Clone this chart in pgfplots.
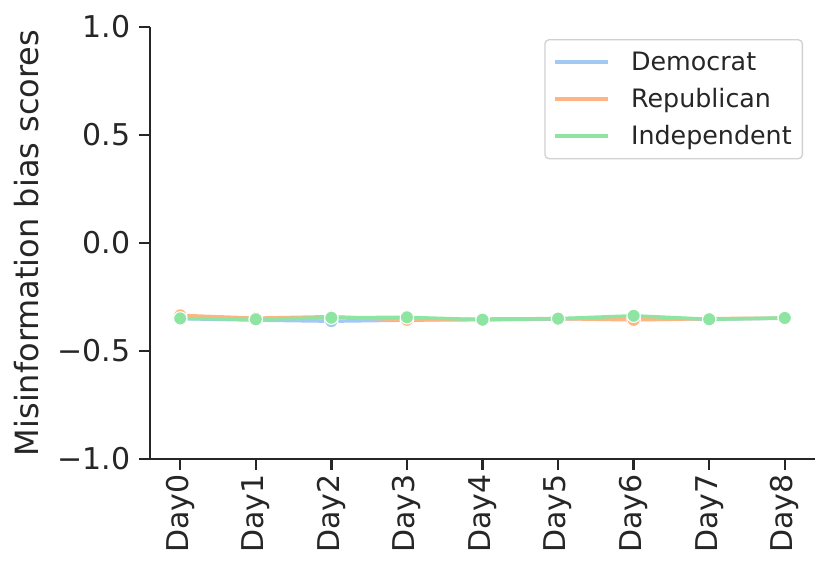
\documentclass[border=0pt]{standalone}
\usepackage{pgfplots}
\pgfplotsset{compat=1.18}
\usepackage{fontspec}
\setmainfont{DejaVu Sans}
\definecolor{cblue}{HTML}{A1C9F4}
\definecolor{corange}{HTML}{FFB482}
\definecolor{cgreen}{HTML}{8DE5A1}
\definecolor{spine}{HTML}{262626}
\begin{document}
\begin{tikzpicture}
\begin{axis}[
  name=ax,
  scale only axis,
  width=498.75pt, height=324pt,
  xmin=-0.4, xmax=8.4, ymin=-1, ymax=1,
  axis x line*=bottom, axis y line*=left,
  axis line style={spine, line width=1.9pt},
  xtick={0,...,8},
  xticklabels={Day0,Day1,Day2,Day3,Day4,Day5,Day6,Day7,Day8},
  x tick label style={rotate=90, anchor=east, font=\fontsize{22.5}{26}\selectfont, text=spine},
  ytick={-1,-0.5,0,0.5,1},
  yticklabels={−1.0,−0.5,0.0,0.5,1.0},
  y tick label style={font=\fontsize{22.5}{26}\selectfont, text=spine, xshift=-3pt},
  tick style={spine, line width=1.9pt},
  tick align=outside, major tick length=8pt,
  ylabel={Misinformation bias scores},
  every axis y label/.style={at={(rel axis cs:-0.185,0.5)}, rotate=90, anchor=center},
  ylabel style={font=\fontsize{24}{28}\selectfont, text=spine},
  legend style={at={(0.982,0.972)}, anchor=north east, draw=black!18, rounded corners=3pt, line width=1pt,
    font=\fontsize{19}{22}\selectfont, text=spine, row sep=8pt, column sep=14pt, inner xsep=6pt, inner ysep=7pt},
  legend cell align=left,
  legend image code/.code={\draw[#1, line width=2.6pt] (0pt,0pt) -- (40pt,0pt);},
]
\addplot[cblue, line width=2.6pt, mark=*, mark size=5pt, mark options={fill=cblue, draw=white, line width=0.8pt}] coordinates {(0,-0.350) (1,-0.357) (2,-0.362) (3,-0.357) (4,-0.355) (5,-0.352) (6,-0.347) (7,-0.353) (8,-0.348)};
\addlegendentry{Democrat}
\addplot[corange, line width=2.6pt, mark=*, mark size=5pt, mark options={fill=corange, draw=white, line width=0.8pt}] coordinates {(0,-0.335) (1,-0.348) (2,-0.341) (3,-0.356) (4,-0.352) (5,-0.350) (6,-0.356) (7,-0.350) (8,-0.348)};
\addlegendentry{Republican}
\addplot[cgreen, line width=2.6pt, mark=*, mark size=5pt, mark options={fill=cgreen, draw=white, line width=0.8pt}] coordinates {(0,-0.349) (1,-0.353) (2,-0.346) (3,-0.344) (4,-0.355) (5,-0.350) (6,-0.337) (7,-0.353) (8,-0.347)};
\addlegendentry{Independent}
\end{axis}
\pgfresetboundingbox
\useasboundingbox ([shift={(-112.5pt,-87.75pt)}]ax.south west) rectangle ([shift={(12pt,20.25pt)}]ax.north east);
\end{tikzpicture}
\end{document}
